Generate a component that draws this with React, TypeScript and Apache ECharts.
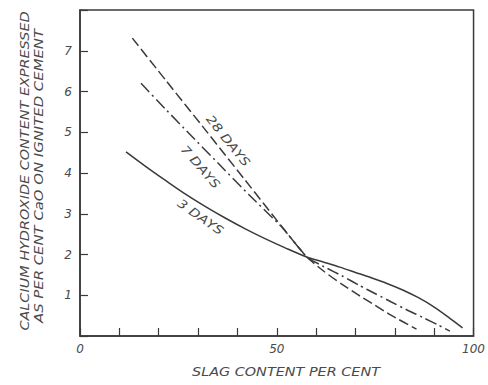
import React, { useEffect, useRef } from "react";
import * as echarts from "echarts";

// Slag content (%) vs CaO (%) readings
const DAYS_3: [number, number][] = [
  [11.7, 4.52], [17, 4.14], [22, 3.8], [27, 3.47], [32, 3.17], [37, 2.89], [42, 2.63],
  [47, 2.39], [52, 2.17], [57.6, 1.94], [62, 1.81], [66, 1.69], [70, 1.56], [74, 1.43],
  [78, 1.29], [82, 1.13], [86, 0.94], [90, 0.71], [93.5, 0.47], [97.2, 0.2],
];
const DAYS_7: [number, number][] = [
  [15.5, 6.2], [21.8, 5.56], [27.6, 4.98], [35, 4.25], [43, 3.46], [51.4, 2.66],
  [57.6, 1.94], [62, 1.7], [66.9, 1.46], [71, 1.24], [75.2, 1.03], [79, 0.84],
  [83.5, 0.62], [87, 0.46], [91, 0.27], [94, 0.12],
];
const DAYS_28: [number, number][] = [
  [13.3, 7.31], [22, 6.25], [32, 5.04], [42, 3.82], [51.4, 2.67], [57.6, 1.94],
  [62.2, 1.57], [66.4, 1.28], [70.5, 1.02], [75, 0.75], [79, 0.51], [85.5, 0.17],
];
const X_LABELS = [0, 50, 100];
const Y_LABELS = [1, 2, 3, 4, 5, 6, 7];
const CURVE_LABELS = [
  { text: "28 DAYS", x: 37.6, y: 4.79, angle: -51 },
  { text: "7 DAYS", x: 30.6, y: 4.15, angle: -49 },
  { text: "3 DAYS", x: 30.6, y: 2.92, angle: -35 },
];
const Y_TITLE_1 = "CALCIUM HYDROXIDE CONTENT EXPRESSED";
const Y_TITLE_2 = "AS PER CENT CaO ON IGNITED CEMENT";
const X_TITLE = "SLAG CONTENT PER CENT";

const INK = "#3a3a3a";
const TEXT = "#4a4a4a";
const FONT = "DejaVu Sans";

export default function App() {
  const ref = useRef<HTMLDivElement>(null);
  useEffect(() => {
    if (!ref.current) return;
    const chart = echarts.init(ref.current, null, { renderer: "svg" });
    const lineStyle = (type: any) => ({ color: INK, width: 1.5, type });
    chart.setOption({
      animation: false,
      grid: { left: 80, right: 9, top: 10, bottom: 49, show: true, borderColor: INK, borderWidth: 1.5 },
      xAxis: {
        type: "value", min: 0, max: 100, interval: 10,
        axisLine: { lineStyle: { color: INK, width: 1.5 } },
        axisTick: { inside: true, length: 8, lineStyle: { color: INK, width: 1.2 } },
        splitLine: { show: false },
        axisLabel: {
          margin: 7, color: TEXT, fontSize: 12, fontStyle: "italic", fontFamily: FONT,
          alignMinLabel: "center", alignMaxLabel: "center",
          formatter: (v: number) => (X_LABELS.includes(v) ? String(v) : ""),
        },
      },
      yAxis: {
        type: "value", min: 0, max: 8, interval: 1,
        axisLine: { lineStyle: { color: INK, width: 1.5 } },
        axisTick: { inside: true, length: 8, lineStyle: { color: INK, width: 1.2 } },
        splitLine: { show: false },
        axisLabel: {
          margin: 8, color: TEXT, fontSize: 12, fontStyle: "italic", fontFamily: FONT,
          formatter: (v: number) => (Y_LABELS.includes(v) ? String(v) : ""),
        },
      },
      series: [
        { type: "line", name: "3 days", data: DAYS_3, showSymbol: false, smooth: 0.3, lineStyle: lineStyle("solid") },
        { type: "line", name: "7 days", data: DAYS_7, showSymbol: false, smooth: 0.15, lineStyle: lineStyle([12, 4, 2, 4]) },
        { type: "line", name: "28 days", data: DAYS_28, showSymbol: false, smooth: 0.15, lineStyle: lineStyle([10, 4]) },
      ],
    });
    const textStyle = {
      fill: TEXT, fontSize: 12, fontStyle: "italic", fontFamily: FONT,
      align: "center", verticalAlign: "middle",
    };
    const curveLabels = CURVE_LABELS.map((l) => {
      const p = chart.convertToPixel({ gridIndex: 0 }, [l.x, l.y]) as number[];
      return {
        type: "text", x: p[0], y: p[1], rotation: (l.angle * Math.PI) / 180, scaleX: 1.2,
        style: { ...textStyle, text: l.text },
      };
    });
    chart.setOption({
      graphic: [
        { type: "text", x: 25, y: 171, rotation: Math.PI / 2, scaleX: 1.2, style: { ...textStyle, text: Y_TITLE_1 } },
        { type: "text", x: 39, y: 176, rotation: Math.PI / 2, scaleX: 1.24, style: { ...textStyle, text: Y_TITLE_2 } },
        { type: "text", x: 286, y: 372, scaleX: 1.2, style: { ...textStyle, text: X_TITLE } },
        ...curveLabels,
      ],
    });
    return () => chart.dispose();
  }, []);
  return <div ref={ref} style={{ position: "absolute", left: 0, top: 0, width: 488, height: 385 }} />;
}
